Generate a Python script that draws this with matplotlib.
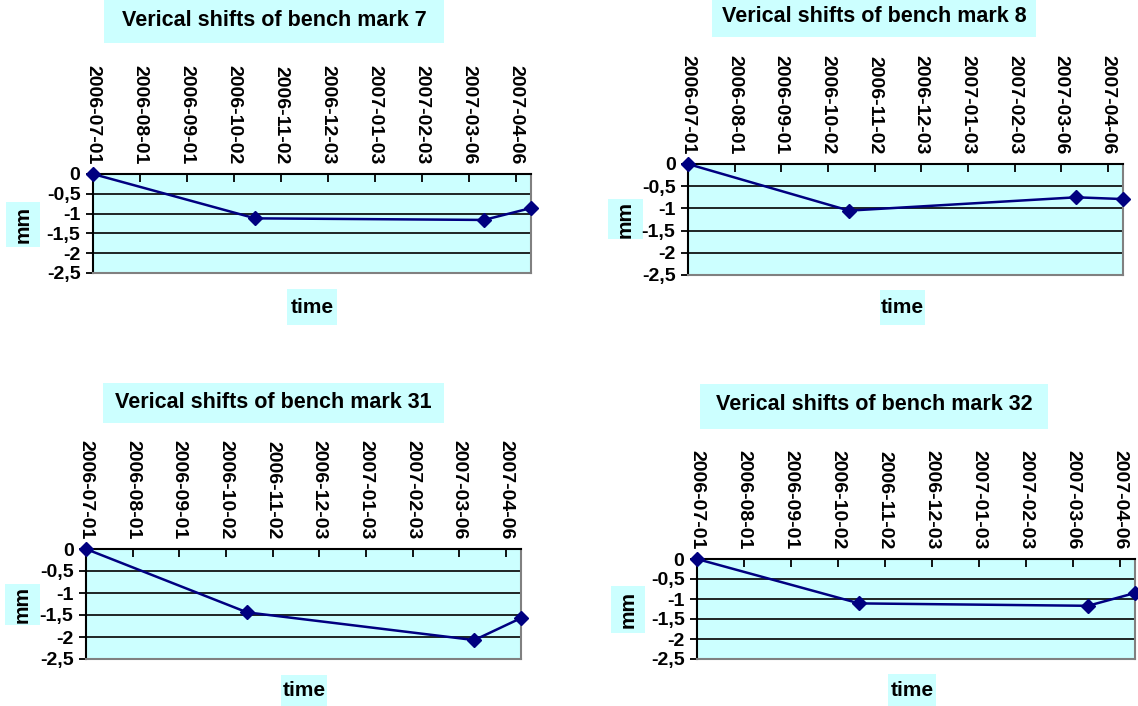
import matplotlib.pyplot as plt
from matplotlib.patches import Rectangle
import pandas as pd

# measurement dates and vertical shifts (mm) per bench mark
dates = ["2006-07-01", "2006-10-16", "2007-03-16", "2007-04-16"]
bm7 = [0, -1.12, -1.16, -0.86]
bm8 = [0, -1.05, -0.75, -0.79]
bm31 = [0, -1.44, -2.07, -1.57]
bm32 = [0, -1.11, -1.17, -0.85]

tick_dates = ["2006-07-01", "2006-08-01", "2006-09-01", "2006-10-02", "2006-11-02",
              "2006-12-03", "2007-01-03", "2007-02-03", "2007-03-06", "2007-04-06"]
y_ticks = [0, -0.5, -1, -1.5, -2, -2.5]
y_labels = ["0", "-0,5", "-1", "-1,5", "-2", "-2,5"]

titles = ["Verical shifts of bench mark 7", "Verical shifts of bench mark 8",
          "Verical shifts of bench mark 31", "Verical shifts of bench mark 32"]
series = [bm7, bm8, bm31, bm32]

W, H = 1138, 706
CYAN = "#CCFFFF"
NAVY = "#000080"

plt.rcParams['font.family'] = ['Liberation Sans', 'DejaVu Sans']
plt.rcParams['font.weight'] = 'bold'

# pixel layout of each panel: plot area, title box, mm box, time box
layout = [
    dict(ax=(93, 174, 531, 273), title=(104, 0, 444, 43), ty=20,
         mm=(6, 202, 40, 247), time=(287, 289, 337, 325)),
    dict(ax=(688, 164, 1123, 275), title=(712, 0, 1036, 37), ty=17,
         mm=(608, 199, 643, 239), time=(880, 290, 925, 325)),
    dict(ax=(86, 549, 521, 659), title=(103, 383, 444, 423), ty=403,
         mm=(5, 584, 40, 625), time=(281, 675, 327, 706)),
    dict(ax=(697, 559, 1135, 659), title=(700, 384, 1048, 429), ty=405,
         mm=(611, 586, 645, 633), time=(888, 674, 936, 706)),
]


def frac_rect(r):
    x0, y0, x1, y1 = r
    return [x0 / W, 1 - y1 / H, (x1 - x0) / W, (y1 - y0) / H]


def box_text(fig, r, text, cy=None, rotation=0, size=13):
    x0, y0, x1, y1 = r
    fig.add_artist(Rectangle((x0 / W, 1 - y1 / H), (x1 - x0) / W, (y1 - y0) / H,
                             transform=fig.transFigure, facecolor=CYAN,
                             edgecolor='none', zorder=0))
    if cy is None:
        cy = (y0 + y1) / 2
    fig.text((x0 + x1) / 2 / W, 1 - cy / H, text, ha='center', va='center',
             rotation=rotation, fontsize=size, fontweight='bold', color='black')


fig = plt.figure(figsize=(W / 100, H / 100), dpi=100)

x = pd.to_datetime(dates)
xt = pd.to_datetime(tick_dates)

for vals, title, lay in zip(series, titles, layout):
    ax = fig.add_axes(frac_rect(lay['ax']))
    ax.set_facecolor(CYAN)
    ax.plot(x, vals, color=NAVY, lw=1.8, marker='D', ms=6.8, clip_on=False, zorder=5)
    ax.set_xlim(x[0], x[-1])
    ax.set_ylim(-2.5, 0)
    ax.set_xticks(xt)
    ax.set_xticklabels(tick_dates)
    ax.set_yticks(y_ticks)
    ax.set_yticklabels(y_labels)
    for v in y_ticks[1:-1]:
        ax.axhline(v, color='black', lw=1.2, zorder=1)
    ax.xaxis.tick_top()
    ax.tick_params(axis='x', direction='in', length=6, width=1.3, pad=7,
                   labelrotation=-90, labelsize=14, top=True, bottom=False)
    ax.tick_params(axis='y', direction='out', length=5, width=1.3, pad=4,
                   labelsize=14)
    for lab in ax.get_xticklabels() + ax.get_yticklabels():
        lab.set_fontweight('bold')
    ax.spines['left'].set_color('black')
    ax.spines['top'].set_color('black')
    ax.spines['left'].set_linewidth(1.5)
    ax.spines['top'].set_linewidth(1.5)
    ax.spines['right'].set_color('#808080')
    ax.spines['bottom'].set_color('#808080')
    ax.spines['right'].set_linewidth(1.5)
    ax.spines['bottom'].set_linewidth(1.5)

    box_text(fig, lay['title'], title, cy=lay['ty'], size=15.5)
    box_text(fig, lay['mm'], "mm", rotation=90, size=15)
    box_text(fig, lay['time'], "time", size=15)

fig.savefig("out.png", dpi=100, facecolor='white')
